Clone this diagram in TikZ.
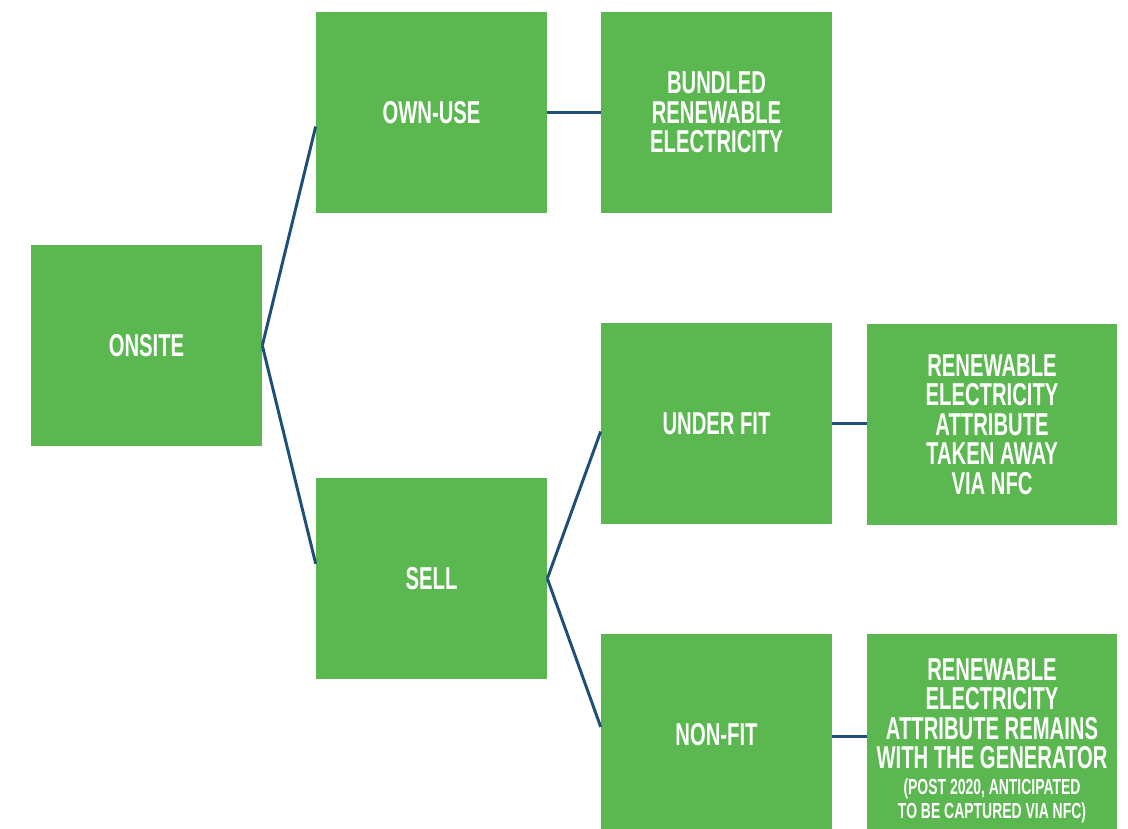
\documentclass[tikz,border=0pt]{standalone}
\usepackage{fontspec}
\newfontfamily\boxfont{Liberation Sans Bold}[FakeStretch=0.64]
\usepackage{tikz}
\usetikzlibrary{positioning}
\definecolor{boxgreen}{RGB}{91,183,80}
\definecolor{linkblue}{RGB}{31,78,121}
\tikzset{
  catbox/.style={fill=boxgreen,draw=none,text=white,align=center,
            minimum width=5.775cm,minimum height=5.025cm,inner sep=0pt,
            font=\boxfont\fontsize{22.5}{21}\selectfont},
  widebox/.style={catbox,minimum width=6.25cm},
  link/.style={linkblue,line width=2.1pt},
}
\newcommand{\smallnote}[1]{{\fontsize{15.5}{16.3}\selectfont #1}}

\begin{document}
\begin{tikzpicture}[x=0.025cm,y=-0.025cm]
  \useasboundingbox (0,0) rectangle (1128,828);
  \node[catbox] (onsite) at (146.5,345.5) {ONSITE};
  \node[catbox] (ownuse) at (431.5,112.5) {OWN-USE};
  \node[catbox] (sell) at (431.5,578.5) {SELL};
  \node[catbox] (bundled) at (716.5,112.5) {BUNDLED\\RENEWABLE\\ELECTRICITY};
  \node[catbox] (underfit) at (716.5,423.5) {UNDER FIT};
  \node[catbox] (nonfit) at (716.5,734.5) {NON-FIT};
  \node[widebox] (takenaway) at (992,424.5) {RENEWABLE\\ELECTRICITY\\ATTRIBUTE\\TAKEN AWAY\\VIA NFC};
  \node[widebox] (remains) at (992,734.5)
        {\rule{0pt}{24pt}RENEWABLE\\ELECTRICITY\\ATTRIBUTE REMAINS\\WITH THE GENERATOR\\[-3pt]
         \smallnote{(POST 2020, ANTICIPATED}\\[-4pt]\smallnote{TO BE CAPTURED VIA NFC)}};
  \draw[link] (onsite.east) -- ([yshift=-0.35cm]ownuse.west);
  \draw[link] (onsite.east) -- ([yshift=0.37cm]sell.west);
  \draw[link] (ownuse.east) -- (bundled.west);
  \draw[link] (sell.east) -- ([yshift=-0.2cm]underfit.west);
  \draw[link] (sell.east) -- ([yshift=0.19cm]nonfit.west);
  \draw[link] (underfit.east) -- (underfit.east -| takenaway.west);
  \draw[link] ([yshift=-0.04cm]nonfit.east) -- ([yshift=-0.04cm]nonfit.east -| remains.west);
\end{tikzpicture}
\end{document}
